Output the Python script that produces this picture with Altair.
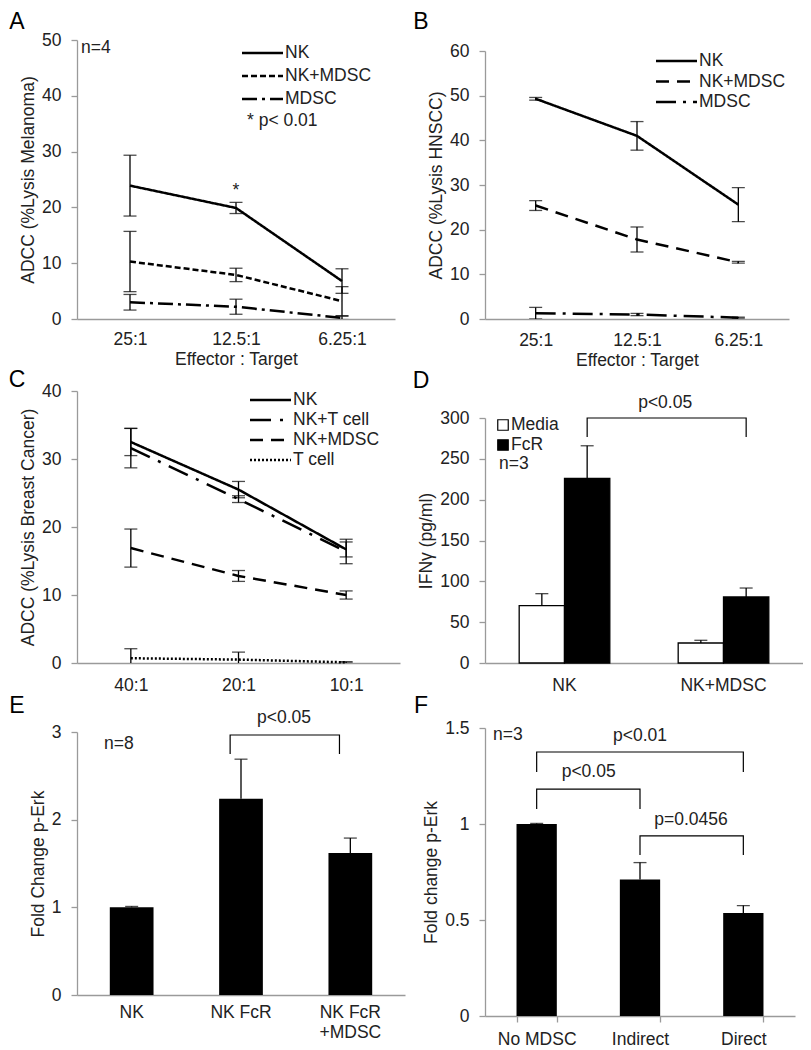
import altair as alt
import pandas as pd

FONT = "Liberation Sans"
FS = 17.5
AX = "#9a9a9a"
TXT = "#222222"
CAP = 13

# ---------------- Panel A data ----------------
a_ratios = ["25:1", "12.5:1", "6.25:1"]
a_series = ["NK", "NK+MDSC", "MDSC"]
a_nk = [23.9, 19.9, 6.8]
a_nk_err = [5.45, 1.0, 2.2]
a_nkmdsc = [10.3, 7.9, 3.2]
a_nkmdsc_err = [5.4, 1.2, 2.6]
a_mdsc = [3.0, 2.2, 0.2]
a_mdsc_err = [1.4, 1.35, 0.3]

# ---------------- Panel B data ----------------
b_ratios = ["25:1", "12.5:1", "6.25:1"]
b_series = ["NK", "NK+MDSC", "MDSC"]
b_nk = [49.3, 41.0, 25.6]
b_nk_err = [0.3, 3.2, 3.8]
b_nkmdsc = [25.4, 17.8, 12.7]
b_nkmdsc_err = [1.1, 2.8, 0.2]
b_mdsc = [1.3, 1.0, 0.3]
b_mdsc_err = [1.3, 0.25, 0.1]

# ---------------- Panel C data ----------------
c_ratios = ["40:1", "20:1", "10:1"]
c_series = ["NK", "NK+T cell", "NK+MDSC", "T cell"]
c_nk = [32.5, 25.5, 16.7]
c_nk_err = [2.0, 1.2, 1.1]
c_nkt = [31.6, 24.1, 16.4]
c_nkt_err = [2.9, 0.5, 1.8]
c_nkmdsc = [16.9, 12.8, 10.0]
c_nkmdsc_err = [2.8, 0.8, 0.6]
c_t = [0.7, 0.5, 0.1]
c_t_err = [1.4, 1.1, 0.1]

# ---------------- Panel D data ----------------
d_cats = ["NK", "NK+MDSC"]
d_groups = ["Media", "FcR"]
d_media = [70.2, 24.5]
d_media_err = [14.7, 3.3]
d_fcr = [226.0, 80.8]
d_fcr_err = [40.0, 11.0]
d_br_top = 300.0
d_br_drop = 276.7
d_p_label = "p<0.05"
d_p_y = 318.0

# ---------------- Panel E data ----------------
e_cats = ["NK", "NK FcR", "NK FcR +MDSC"]
e_vals = [1.0, 2.24, 1.62]
e_err = [0.01, 0.45, 0.17]
e_br_from = ["NK FcR"]
e_br_to = ["NK FcR +MDSC"]
e_br_top = [2.966]
e_br_drop = [2.749]
e_p_labels = ["p<0.05"]
e_p_cat = ["NK FcR"]
e_p_y = [3.16]
e_p_dx = [43]

# ---------------- Panel F data ----------------
f_cats = ["No MDSC", "Indirect", "Direct"]
f_vals = [1.0, 0.711, 0.537]
f_err = [0.003, 0.088, 0.038]
f_br_from = ["No MDSC", "No MDSC", "Indirect"]
f_br_to = ["Direct", "Indirect", "Direct"]
f_br_top = [1.375, 1.182, 0.938]
f_br_drop = [1.271, 1.078, 0.839]
f_p_labels = ["p<0.01", "p<0.05", "p=0.0456"]
f_p_cat = ["Indirect", "No MDSC", "Indirect"]
f_p_y = [1.458, 1.271, 1.021]
f_p_dx = [0, 52, 51]


# ---------------- helpers ----------------
def y_axis(title, values, fmt=None):
    kw = dict(title=title, values=values, grid=False, domainColor=AX, domainWidth=1.3,
              tickColor=AX, tickWidth=1.3, tickSize=6, labelFont=FONT, labelFontSize=FS,
              labelColor=TXT, labelPadding=10, titleFont=FONT, titleFontSize=FS,
              titleFontWeight="normal", titleColor=TXT, titlePadding=4)
    if fmt:
        kw["format"] = fmt
    return alt.Axis(**kw)


def x_axis(title, pad, ticks=False, label_expr=None):
    kw = dict(title=title, labelAngle=0, grid=False, domainColor=AX, domainWidth=1.3,
              ticks=ticks, tickSize=6 if ticks else 0, tickColor=AX, tickWidth=1.3,
              labelFont=FONT, labelFontSize=FS, labelColor=TXT, labelPadding=pad,
              titleFont=FONT, titleFontSize=FS, titleFontWeight="normal",
              titleColor=TXT, titlePadding=3)
    if ticks:
        kw["tickBand"] = "extent"
    if label_expr:
        kw["labelExpr"] = label_expr
        kw["labelLineHeight"] = 20
    return alt.Axis(**kw)


def pix_text(txt, x, y, size=FS, align="left", color=TXT):
    return alt.Chart(pd.DataFrame({"t": [txt]})).mark_text(
        align=align, baseline="middle", font=FONT, fontSize=size, color=color
    ).encode(x=alt.value(x), y=alt.value(y), text="t:N")


def letter(ch, x, y):
    return pix_text(ch, x, y, size=23, align="center", color="black")


def long_df(cats, series, vals, errs):
    rows = []
    for s, vs, es in zip(series, vals, errs):
        for i, (c, v, e) in enumerate(zip(cats, vs, es)):
            rows.append({"cat": c, "idx": i, "series": s, "value": v,
                         "lo": v - e, "hi": v + e})
    return pd.DataFrame(rows)


def bracket_df(frm, to, top, drop):
    rows = []
    for i, (a, b, t, d) in enumerate(zip(frm, to, top, drop)):
        rows += [{"id": i, "seq": 0, "cat": a, "y": d},
                 {"id": i, "seq": 1, "cat": a, "y": t},
                 {"id": i, "seq": 2, "cat": b, "y": t},
                 {"id": i, "seq": 3, "cat": b, "y": d}]
    return pd.DataFrame(rows)


def line_panel(cats, series, vals, errs, dashes, ymax, ytitle, xtitle, width,
               height, ytop, xpad, leg_x, leg_y, extras_main=(), extras_pix=()):
    df = long_df(cats, series, vals, errs)
    X = alt.X("cat:N", sort=cats, scale=alt.Scale(type="point", domain=cats, padding=0.5),
              axis=x_axis(xtitle, xpad))
    ys = alt.Scale(domain=[0, ymax], range=[height, ytop], nice=False, zero=False)
    yax = y_axis(ytitle, list(range(0, ymax + 1, 10)))
    dash = alt.StrokeDash("series:N", scale=alt.Scale(domain=series, range=dashes), legend=None)
    base = alt.Chart(df)
    err = base.mark_rule(color="black", strokeWidth=1.3, clip=True).encode(
        x=X, y=alt.Y("lo:Q", scale=ys, axis=yax), y2="hi:Q")
    cap_lo = base.mark_tick(color="black", thickness=1.3, size=CAP, clip=True).encode(
        x=X, y=alt.Y("lo:Q", scale=ys, axis=yax))
    cap_hi = base.mark_tick(color="black", thickness=1.3, size=CAP, clip=True).encode(
        x=X, y=alt.Y("hi:Q", scale=ys, axis=yax))
    line = base.mark_line(color="black", strokeWidth=2.5).encode(
        x=X, y=alt.Y("value:Q", scale=ys, axis=yax), strokeDash=dash, order="idx:Q")
    layers = [err, cap_lo, cap_hi, line]
    for (txt, cat, yv) in extras_main:
        layers.append(alt.Chart(pd.DataFrame({"cat": [cat], "y": [yv], "t": [txt]})).mark_text(
            font=FONT, fontSize=FS, color=TXT, baseline="middle").encode(
            x=X, y=alt.Y("y:Q", scale=ys, axis=yax), text="t:N"))
    main = alt.layer(*layers)

    leg = pd.DataFrame({"series": series})
    LY = alt.Y("series:N", scale=alt.Scale(type="point", domain=series, range=leg_y, padding=0),
               axis=None)
    leg_line = alt.Chart(leg).mark_rule(color="black", strokeWidth=2.5).encode(
        x=alt.value(leg_x), x2=alt.value(leg_x + 41), y=LY, strokeDash=dash)
    leg_txt = alt.Chart(leg).mark_text(align="left", baseline="middle", font=FONT,
                                        fontSize=FS, color=TXT).encode(
        x=alt.value(leg_x + 43), y=LY, text="series:N")
    over = alt.layer(leg_line, leg_txt, *extras_pix)
    return alt.layer(main, over).resolve_scale(y="independent").properties(
        width=width, height=height)


def bar_panel(cats, vals, errs, pin, pout, ymax, yvals, ytitle, fmt, width, height,
              ytop, xax, brk, ptexts, br_xoff, extras_pix):
    df = pd.DataFrame({"cat": cats, "value": vals, "hi": [v + e for v, e in zip(vals, errs)]})
    X = alt.X("cat:N", sort=cats, scale=alt.Scale(domain=cats, paddingInner=pin,
                                                  paddingOuter=pout), axis=xax)
    ys = alt.Scale(domain=[0, ymax], range=[height, ytop], nice=False, zero=False)
    yax = y_axis(ytitle, yvals, fmt)
    base = alt.Chart(df)
    bars = base.mark_bar(color="black").encode(x=X, y=alt.Y("value:Q", scale=ys, axis=yax))
    err = base.mark_rule(color="black", strokeWidth=1.3).encode(
        x=X, y=alt.Y("value:Q", scale=ys, axis=yax), y2="hi:Q")
    cap = base.mark_tick(color="black", thickness=1.3, size=CAP).encode(
        x=X, y=alt.Y("hi:Q", scale=ys, axis=yax))
    br_enc = dict(x=X, y=alt.Y("y:Q", scale=ys, axis=yax), detail="id:N", order="seq:Q")
    if br_xoff is not None:
        br_enc["xOffset"] = alt.value(br_xoff)
    br = alt.Chart(brk).mark_line(color="black", strokeWidth=1.2).encode(**br_enc)
    layers = [bars, err, cap, br]
    for (txt, cat, yv, dx) in ptexts:
        layers.append(alt.Chart(pd.DataFrame({"cat": [cat], "y": [yv], "t": [txt]})).mark_text(
            font=FONT, fontSize=FS, color=TXT, baseline="middle", dx=dx).encode(
            x=X, y=alt.Y("y:Q", scale=ys, axis=yax), text="t:N"))
    return alt.layer(*layers, *extras_pix).properties(width=width, height=height)


# ---------------- Panel A ----------------
A = line_panel(
    a_ratios, a_series, [a_nk, a_nkmdsc, a_mdsc], [a_nk_err, a_nkmdsc_err, a_mdsc_err],
    [[1, 0], [6, 3], [15, 5, 3, 5]], 50, "ADCC (%Lysis Melanoma)", "Effector : Target",
    318, 279, 0, 11, 165, [13, 59],
    extras_main=[("*", "12.5:1", 23.0)],
    extras_pix=[pix_text("n=4", 4, 8), pix_text("* p< 0.01", 170, 81),
                letter("A", -60, -18)])

# ---------------- Panel B ----------------
B = line_panel(
    b_ratios, b_series, [b_nk, b_nkmdsc, b_mdsc], [b_nk_err, b_nkmdsc_err, b_mdsc_err],
    [[1, 0], [13, 8], [20, 7, 3, 7]], 60, "ADCC (%Lysis HNSCC)", "Effector : Target",
    304, 279, 11, 12, 171, [21, 62],
    extras_pix=[letter("B", -64, -18)])

# ---------------- Panel C ----------------
C = line_panel(
    c_ratios, c_series, [c_nk, c_nkt, c_nkmdsc, c_t],
    [c_nk_err, c_nkt_err, c_nkmdsc_err, c_t_err],
    [[1, 0], [21, 9, 3, 9], [13, 8], [2, 2]], 40, "ADCC (%Lysis Breast Cancer)", None,
    323, 279, 7, 13, 173, [16, 76],
    extras_pix=[letter("C", -60, -4)])

# ---------------- Panel D ----------------
d_rows = []
for c, m, me, f, fe in zip(d_cats, d_media, d_media_err, d_fcr, d_fcr_err):
    d_rows.append({"cat": c, "grp": "Media", "value": m, "hi": m + me})
    d_rows.append({"cat": c, "grp": "FcR", "value": f, "hi": f + fe})
d_df = pd.DataFrame(d_rows)
DW, DH = 318, 279
XD = alt.X("cat:N", sort=d_cats, scale=alt.Scale(domain=d_cats, paddingInner=0.43,
                                                 paddingOuter=0.215), axis=x_axis(None, 13))
XO = alt.XOffset("grp:N", sort=d_groups, scale=alt.Scale(domain=d_groups))
YSD = alt.Scale(domain=[0, 300], range=[DH, 34], nice=False, zero=False)
YAD = y_axis("IFN\u03b3 (pg/ml)", [0, 50, 100, 150, 200, 250, 300])
FILL = alt.Fill("grp:N", scale=alt.Scale(domain=d_groups, range=["white", "black"]), legend=None)
d_base = alt.Chart(d_df)
d_bars = d_base.mark_bar(stroke="black", strokeWidth=1.3).encode(
    x=XD, xOffset=XO, y=alt.Y("value:Q", scale=YSD, axis=YAD), fill=FILL)
d_err = d_base.mark_rule(color="black", strokeWidth=1.3).encode(
    x=XD, xOffset=XO, y=alt.Y("value:Q", scale=YSD, axis=YAD), y2="hi:Q")
d_cap = d_base.mark_tick(color="black", thickness=1.3, size=CAP).encode(
    x=XD, xOffset=XO, y=alt.Y("hi:Q", scale=YSD, axis=YAD))
d_brdf = bracket_df([d_cats[0]], [d_cats[1]], [d_br_top], [d_br_drop])
d_brdf["grp"] = "FcR"
d_br = alt.Chart(d_brdf).mark_line(color="black", strokeWidth=1.2).encode(
    x=XD, xOffset=XO, y=alt.Y("y:Q", scale=YSD, axis=YAD), detail="id:N", order="seq:Q")
d_pt = alt.Chart(pd.DataFrame({"cat": [d_cats[0]], "grp": ["FcR"], "y": [d_p_y],
                               "t": [d_p_label]})).mark_text(
    font=FONT, fontSize=FS, color=TXT, baseline="middle", dx=78).encode(
    x=XD, xOffset=XO, y=alt.Y("y:Q", scale=YSD, axis=YAD), text="t:N")
d_main = alt.layer(d_bars, d_err, d_cap, d_br, d_pt)
d_leg = pd.DataFrame({"grp": d_groups})
LYD = alt.Y("grp:N", scale=alt.Scale(type="point", domain=d_groups, range=[41, 61], padding=0),
            axis=None)
d_leg_sq = alt.Chart(d_leg).mark_square(size=110, stroke="black", strokeWidth=1.2,
                                         opacity=1).encode(
    x=alt.value(18), y=LYD, fill=FILL)
d_leg_tx = alt.Chart(d_leg).mark_text(align="left", baseline="middle", font=FONT,
                                       fontSize=FS, color=TXT).encode(
    x=alt.value(26), y=LYD, text="grp:N")
D = alt.layer(d_main, alt.layer(d_leg_sq, d_leg_tx, pix_text("n=3", 14, 80),
                                letter("D", -64, -3))).resolve_scale(
    y="independent").properties(width=DW, height=DH)

# ---------------- Panel E ----------------
E = bar_panel(
    e_cats, e_vals, e_err, 0.6, 0.3, 3, [0, 1, 2, 3], "Fold Change p-Erk", None,
    328, 267, 4,
    x_axis(None, 8, label_expr="datum.value == 'NK FcR +MDSC' ? ['NK FcR', '+MDSC'] : datum.label"),
    bracket_df(e_br_from, e_br_to, e_br_top, e_br_drop),
    list(zip(e_p_labels, e_p_cat, e_p_y, e_p_dx)), 11,
    [pix_text("n=8", 27, 16), letter("E", -60, -22)])

# ---------------- Panel F ----------------
F = bar_panel(
    f_cats, f_vals, f_err, 0.61, 0.305, 1.5, [0, 0.5, 1, 1.5], "Fold change p-Erk", "~g",
    310, 288, 0, x_axis(None, 8, ticks=True),
    bracket_df(f_br_from, f_br_to, f_br_top, f_br_drop),
    list(zip(f_p_labels, f_p_cat, f_p_y, f_p_dx)), None,
    [pix_text("n=3", 8, 7), letter("F", -64, -22)])

chart = alt.concat(
    A, B, C, D, E, F, columns=2, spacing={"row": 65, "column": 80}, bounds="flush",
    padding={"top": 3, "left": 0, "right": 0, "bottom": 0}
).resolve_scale(strokeDash="independent", fill="independent").configure(
    font=FONT).configure_view(strokeWidth=0)

chart.save("out.html", embed_options={"renderer": "svg", "actions": False})
